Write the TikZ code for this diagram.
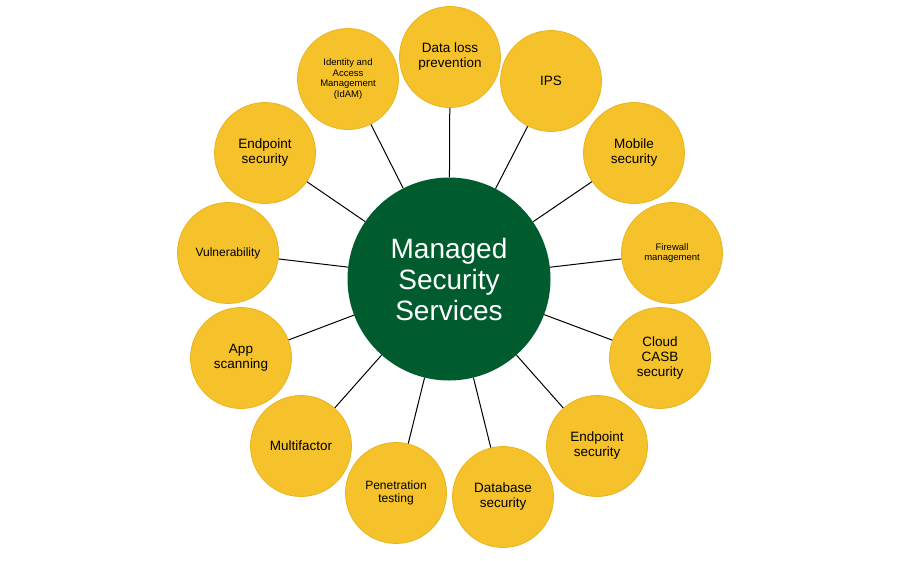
\documentclass[tikz,border=0pt]{standalone}
\usepackage{fontspec}
\setmainfont{Liberation Sans}
\begin{document}
\begin{tikzpicture}[x=1pt,y=-1pt,
  sat/.style={circle,fill=yellowc,draw=yellowd,line width=0.8pt,minimum size=101pt,inner sep=0pt,align=center,font=\fontsize{13.5}{15}\selectfont},
  small/.style={font=\fontsize{9.5}{10.5}\selectfont},
  spoke/.style={draw=black,line width=1pt}]
\definecolor{yellowc}{HTML}{F5C22B}
\definecolor{yellowd}{HTML}{E8B420}
\definecolor{greenc}{HTML}{005C2E}
\useasboundingbox (0,0) rectangle (899,560);
\node[circle,fill=greenc,minimum size=203pt,inner sep=0pt,align=center,text=white,font=\fontsize{28}{31}\selectfont] (c) at (449,279) {Managed\\Security\\Services};
\node[sat] (s1) at (450,57) {Data loss\\prevention};
\node[sat] (s2) at (551,81) {IPS};
\node[sat] (s3) at (634,153) {Mobile\\security};
\node[sat,small] (s4) at (672,253) {Firewall\\management};
\node[sat] (s5) at (660,358) {Cloud\\CASB\\security};
\node[sat] (s6) at (597,446) {Endpoint\\security};
\node[sat] (s7) at (503,497) {Database\\security};
\node[sat,font=\fontsize{12}{13.5}\selectfont] (s8) at (396,493) {Penetration\\testing};
\node[sat] (s9) at (301,446) {Multifactor};
\node[sat] (s10) at (241,358) {App\\scanning};
\node[sat,font=\fontsize{12}{13.5}\selectfont] (s11) at (228,253) {Vulnerability};
\node[sat] (s12) at (265,153) {Endpoint\\security};
\node[sat,small] (s13) at (348,79) {Identity and\\Access\\Management\\(IdAM)};
\foreach \i in {1,...,13} {\path[spoke] (c) -- (s\i);}
\end{tikzpicture}
\end{document}
